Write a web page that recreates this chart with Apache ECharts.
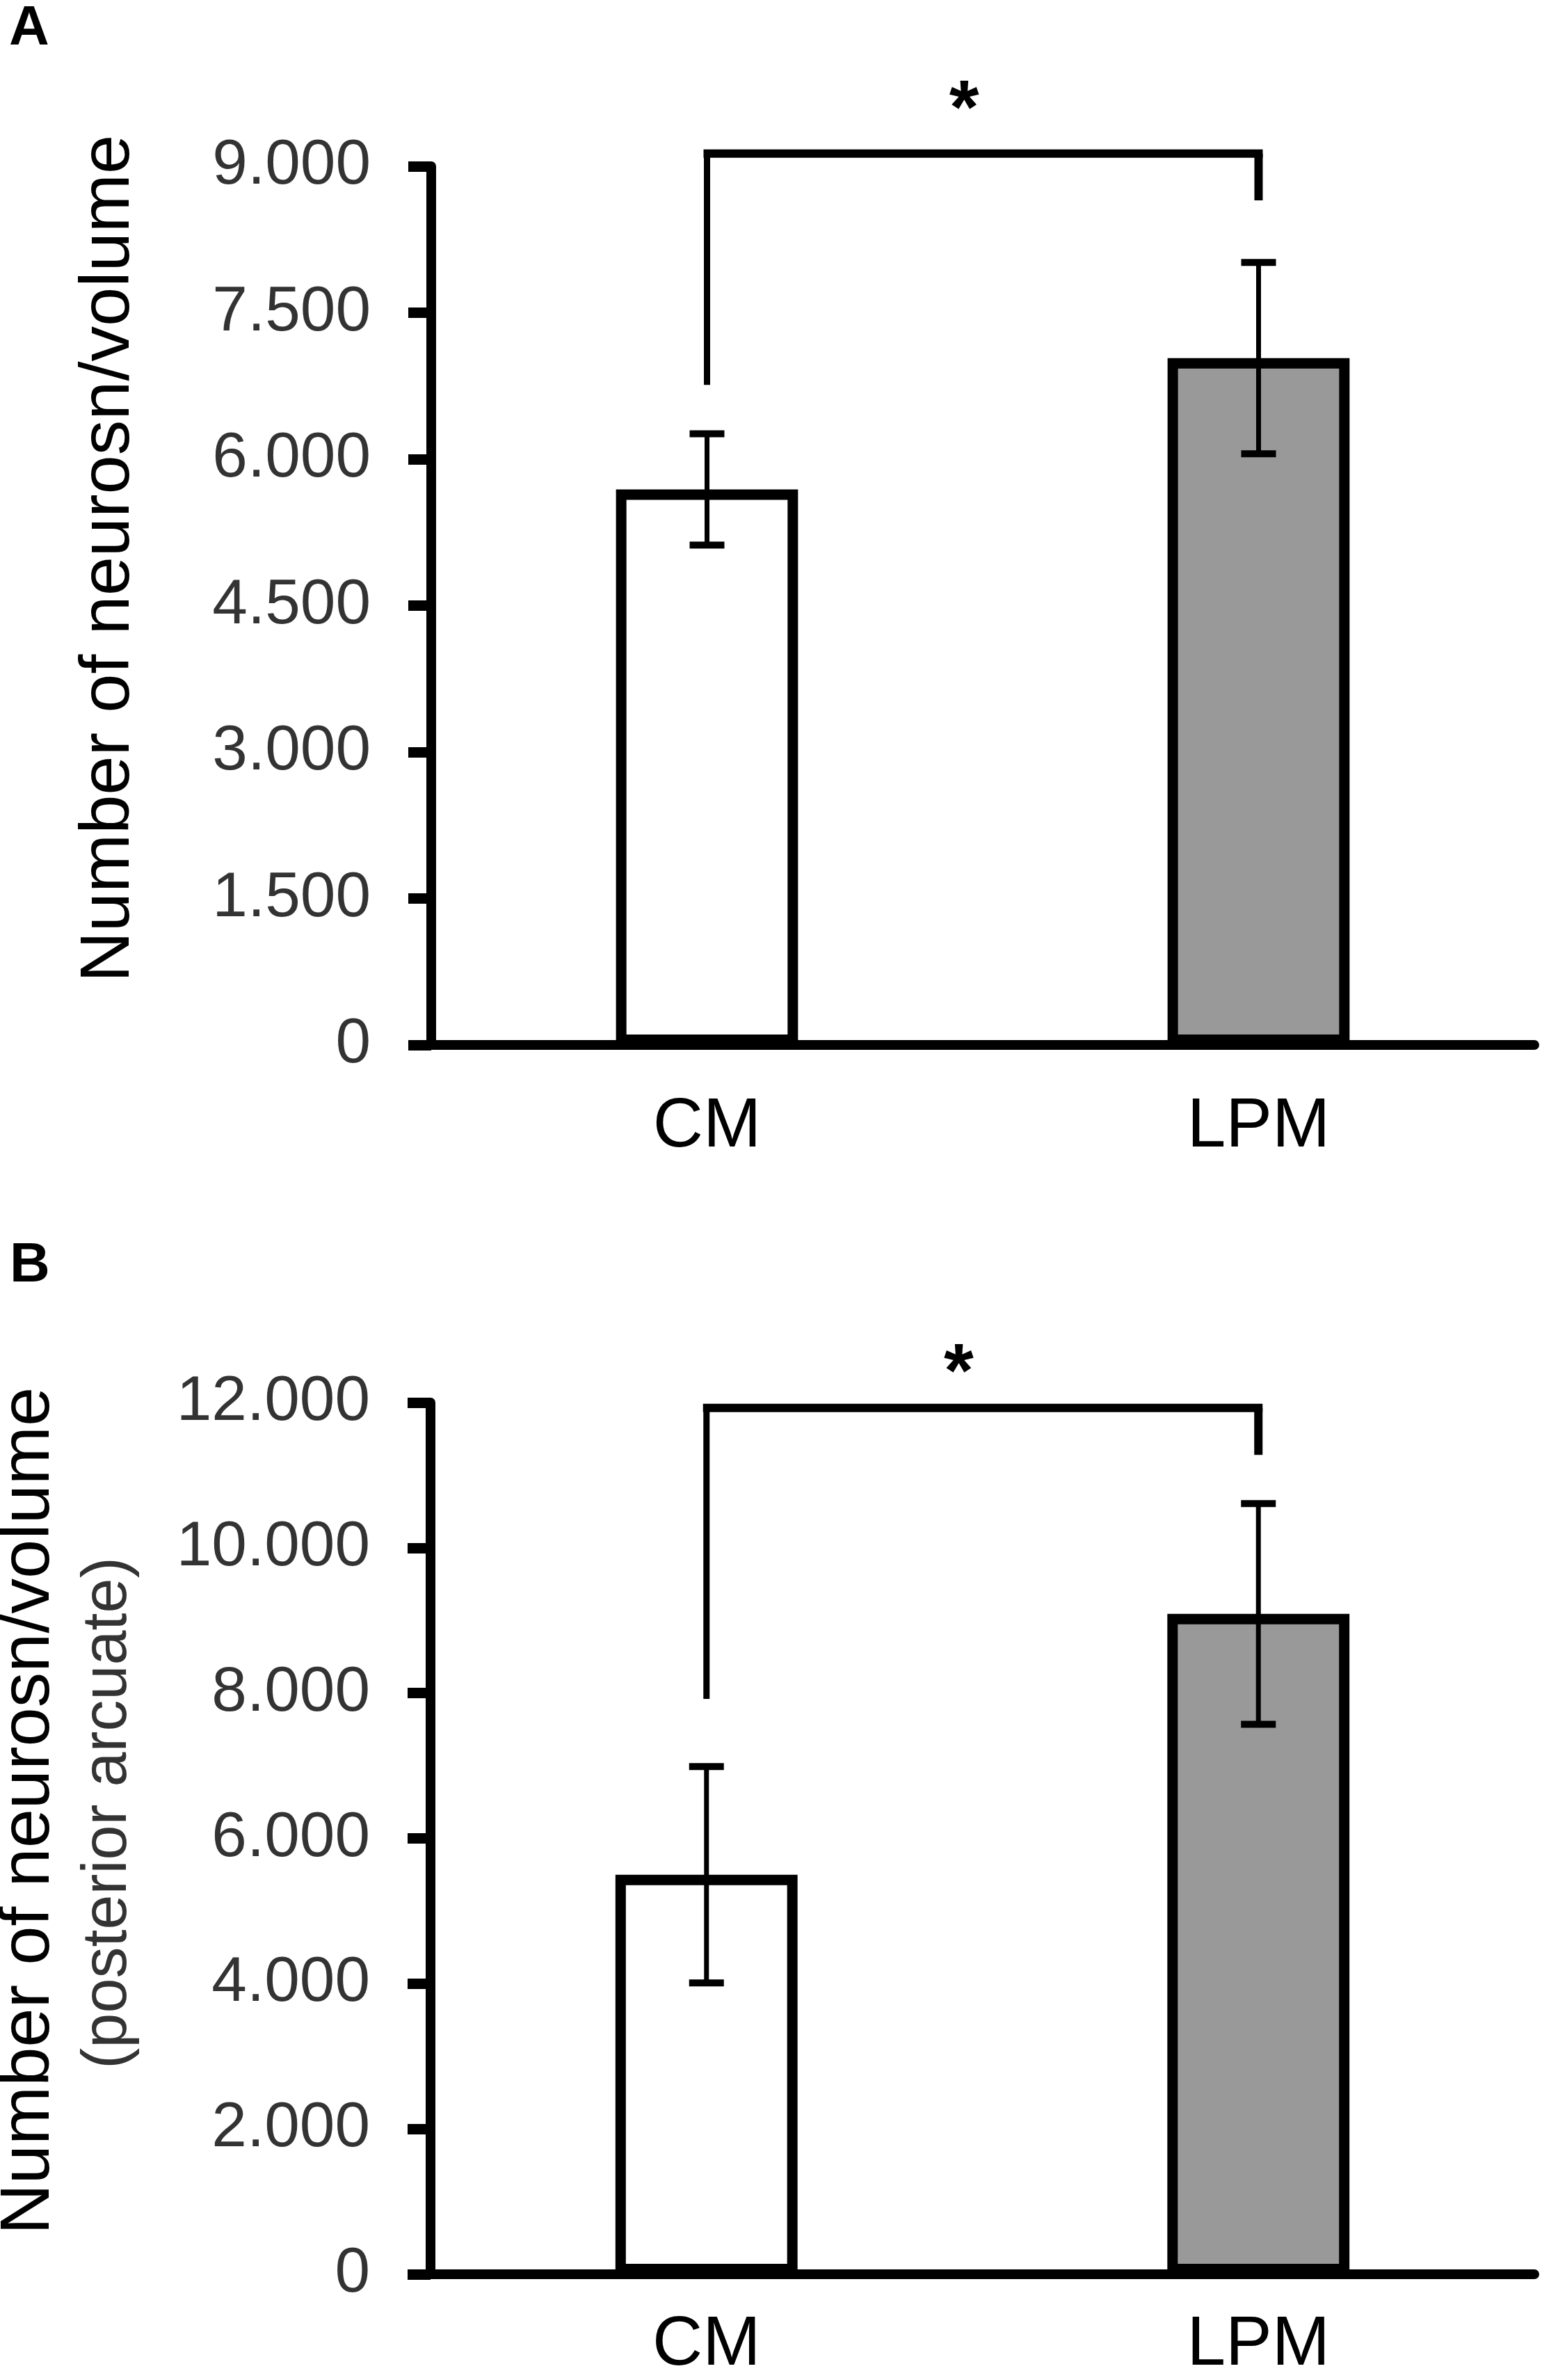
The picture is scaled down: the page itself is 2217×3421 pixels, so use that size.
<!DOCTYPE html>
<html>
<head>
<meta charset="utf-8">
<title>Number of neurons per volume</title>
<script src="https://cdn.jsdelivr.net/npm/echarts/dist/echarts.min.js"></script>
<style>
  html, body { margin: 0; padding: 0; background: #fff; }
  #chart { width: 2217px; height: 3421px; }
</style>
</head>
<body>
<div id="chart"></div>
<script>
// groups on the x axis
var categories = ['CM', 'LPM'];

// panel A: mean and error (number of neurons / volume)
var meansA = [5690, 7035];
var errA = [570, 980];
var yMaxA = 9000;
var yStepA = 1500;

// panel B: posterior arcuate
var meansB = [5500, 9090];
var errB = [1490, 1520];
var yMaxB = 12000;
var yStepB = 2000;

// significance bracket: [from cat, to cat, top, left leg end, right leg end, star value, star position between cats]
var sigA = [0, 1, 9130, 6760, 8650, 9730, 0.466];
var sigB = [0, 1, 11925, 7920, 11280, 12610, 0.457];

var barColors = ['#ffffff', '#999999'];

var FONT = '"Liberation Sans", Arial, Helvetica, sans-serif';

function errData(means, errs) {
    return means.map(function (m, i) {
        return [i, m - errs[i], m + errs[i]];
    });
}

function barData(means) {
    return means.map(function (m, i) {
        return { value: m, itemStyle: { color: barColors[i] } };
    });
}

function thousands(v) {
    return v === 0 ? '0' : (v / 1000).toFixed(3);
}

function renderErr(params, api) {
    var x = api.value(0);
    var lo = api.coord([x, api.value(1)]);
    var hi = api.coord([x, api.value(2)]);
    var half = 25;
    return {
        type: 'group',
        children: [
            { type: 'line', shape: { x1: lo[0], y1: lo[1], x2: hi[0], y2: hi[1] },
              style: { stroke: '#000', lineWidth: 7 } },
            { type: 'line', shape: { x1: lo[0] - half, y1: lo[1], x2: lo[0] + half, y2: lo[1] },
              style: { stroke: '#000', lineWidth: 10 } },
            { type: 'line', shape: { x1: hi[0] - half, y1: hi[1], x2: hi[0] + half, y2: hi[1] },
              style: { stroke: '#000', lineWidth: 10 } }
        ]
    };
}

function renderSig(params, api) {
    var c0 = api.value(0), c1 = api.value(1);
    var top = api.value(2);
    var pTL = api.coord([c0, top]);
    var pTR = api.coord([c1, top]);
    var pL = api.coord([c0, api.value(3)]);
    var pR = api.coord([c1, api.value(4)]);
    var s0 = api.coord([c0, api.value(5)]);
    var s1 = api.coord([c1, api.value(5)]);
    var frac = api.value(6);
    var sx = s0[0] + frac * (s1[0] - s0[0]);
    var fs = 110;
    return {
        type: 'group',
        children: [
            { type: 'line', shape: { x1: pTL[0] - 5, y1: pTL[1], x2: pTR[0] + 6, y2: pTR[1] },
              style: { stroke: '#000', lineWidth: 12 } },
            { type: 'line', shape: { x1: pL[0], y1: pL[1], x2: pTL[0], y2: pTL[1] },
              style: { stroke: '#000', lineWidth: 9 } },
            { type: 'line', shape: { x1: pR[0], y1: pR[1], x2: pTR[0], y2: pTR[1] },
              style: { stroke: '#000', lineWidth: 12 } },
            { type: 'text', x: sx, y: s0[1] + 0.22 * fs,
              style: { text: '*', fontSize: fs, fontWeight: 'bold', fontFamily: FONT,
                       fill: '#000', align: 'center', verticalAlign: 'middle' } }
        ]
    };
}

function yAxis(gridIndex, max, step) {
    return {
        type: 'value',
        gridIndex: gridIndex,
        min: 0,
        max: max,
        interval: step,
        axisLine: { show: true, lineStyle: { color: '#000', width: 14 } },
        axisTick: { show: true, length: 33, lineStyle: { color: '#000', width: 15 } },
        axisLabel: { formatter: thousands, fontSize: 91, fontFamily: FONT, color: '#333', margin: 87 },
        splitLine: { show: false }
    };
}

function xAxis(gridIndex, margin) {
    return {
        type: 'category',
        gridIndex: gridIndex,
        data: categories,
        axisLine: { show: true, lineStyle: { color: '#000', width: 14 } },
        axisTick: { show: false },
        axisLabel: { fontSize: 100, fontFamily: FONT, color: '#000', margin: margin }
    };
}

var chart = echarts.init(document.getElementById('chart'), null, { renderer: 'canvas' });

chart.setOption({
    animation: false,
    backgroundColor: '#fff',
    grid: [
        { left: 620, right: 11, top: 239, height: 1263 },
        { left: 619, right: 11, top: 2016, height: 1259 }
    ],
    xAxis: [xAxis(0, 68), xAxis(1, 52)],
    yAxis: [yAxis(0, yMaxA, yStepA), yAxis(1, yMaxB, yStepB)],
    series: [
        { type: 'bar', xAxisIndex: 0, yAxisIndex: 0, data: barData(meansA), barWidth: '33%',
          itemStyle: { borderColor: '#000', borderWidth: 15 } },
        { type: 'custom', xAxisIndex: 0, yAxisIndex: 0, data: errData(meansA, errA),
          encode: { x: 0, y: [1, 2] }, renderItem: renderErr, z: 3, clip: false },
        { type: 'custom', xAxisIndex: 0, yAxisIndex: 0, data: [sigA],
          encode: { x: [0, 1], y: [2, 3, 4, 5] }, renderItem: renderSig, z: 3, clip: false },

        { type: 'bar', xAxisIndex: 1, yAxisIndex: 1, data: barData(meansB), barWidth: '33%',
          itemStyle: { borderColor: '#000', borderWidth: 15 } },
        { type: 'custom', xAxisIndex: 1, yAxisIndex: 1, data: errData(meansB, errB),
          encode: { x: 0, y: [1, 2] }, renderItem: renderErr, z: 3, clip: false },
        { type: 'custom', xAxisIndex: 1, yAxisIndex: 1, data: [sigB],
          encode: { x: [0, 1], y: [2, 3, 4, 5] }, renderItem: renderSig, z: 3, clip: false }
    ],
    graphic: [
        { type: 'text', x: 13, y: 42,
          style: { text: 'A', fontSize: 80, fontWeight: 'bold', fontFamily: FONT, fill: '#000',
                   align: 'left', verticalAlign: 'middle' } },
        { type: 'text', x: 14, y: 1820,
          style: { text: 'B', fontSize: 80, fontWeight: 'bold', fontFamily: FONT, fill: '#000',
                   align: 'left', verticalAlign: 'middle' } },
        { type: 'text', x: 157, y: 803, rotation: Math.PI / 2,
          style: { text: 'Number of neurosn/volume', fontSize: 101, fontFamily: FONT, fill: '#000',
                   align: 'center', verticalAlign: 'middle' } },
        { type: 'text', x: 42, y: 2603, rotation: Math.PI / 2,
          style: { text: 'Number of neurosn/volume', fontSize: 101, fontFamily: FONT, fill: '#000',
                   align: 'center', verticalAlign: 'middle' } },
        { type: 'text', x: 156, y: 2606, rotation: Math.PI / 2,
          style: { text: '(posterior arcuate)', fontSize: 90, fontFamily: FONT, fill: '#333',
                   align: 'center', verticalAlign: 'middle' } }
    ]
});
</script>
</body>
</html>
